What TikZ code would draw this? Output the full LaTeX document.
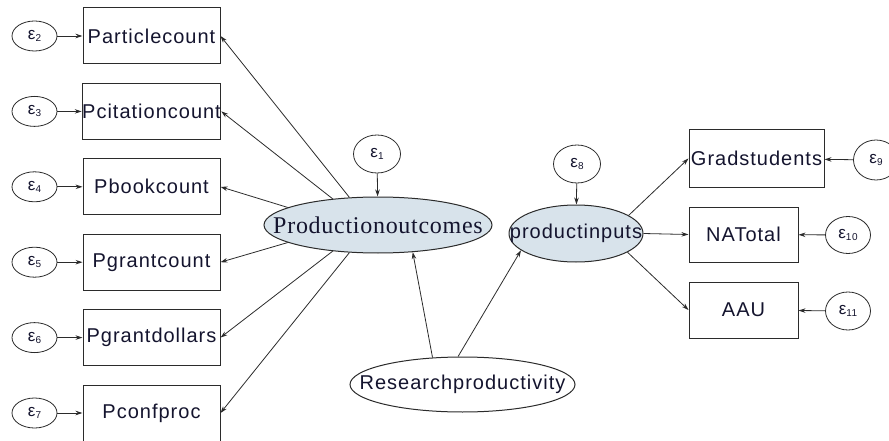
\documentclass[tikz,border=0pt]{standalone}
\usepackage{fontspec}
\setmainfont{Liberation Sans}[LetterSpace=5]
\newfontfamily\latserif{Liberation Serif}[LetterSpace=3]
\usetikzlibrary{arrows.meta,shapes.geometric}
\definecolor{latcol}{HTML}{D8E3EB}
\definecolor{edgecol}{HTML}{2B2B2B}
\definecolor{txtcol}{HTML}{14142E}
\newcommand\errlab[1]{{\fontsize{17}{17}\selectfont ε}\raisebox{-2pt}{\fontsize{10}{10}\selectfont #1}}

\begin{document}
\begin{tikzpicture}[x=1pt,y=-1pt,>={Stealth[length=7pt,width=4.5pt]},
  every node/.style={text=txtcol},
  obs/.style={draw=edgecol,line width=1pt,minimum width=137pt,minimum height=56pt,inner sep=0pt,font=\fontsize{20}{22}\selectfont},
  err/.style={draw=edgecol,ellipse,line width=0.8pt,minimum width=45pt,minimum height=30pt,inner sep=0pt},
  lat/.style={draw=edgecol,ellipse,line width=1pt,fill=latcol,inner sep=0pt,font=\fontsize{20}{22}\selectfont},
  path/.style={->,draw=edgecol,line width=0.8pt}]
  \useasboundingbox (0,0) rectangle (889,441);
  % latent variables
  \node[lat,minimum width=228pt,minimum height=56pt,font=\fontsize{24}{26}\latserif] (po) at (378,225) {\makebox[0pt]{Productionoutcomes}};
  \node[lat,minimum width=134pt,minimum height=57pt] (pi) at (576,233.5) {\makebox[0pt]{productinputs}};
  \node[lat,fill=white,minimum width=225pt,minimum height=55pt] (rp) at (462.5,384.5) {\makebox[0pt]{Researchproductivity}};
  \node[err,minimum width=47pt,minimum height=38pt] (e1) at (377,154) {\errlab{1}};
  \node[err,minimum width=47pt,minimum height=38pt] (e8) at (577,164) {\errlab{8}};
  \draw[path] (e1) -- (po);
  \draw[path] (e8) -- (pi);
  \draw[path] (rp.138) -- (po.322);
  \draw[path] (rp.99) -- (pi.197);
  % outcome indicators
  \foreach \n/\t/\y/\k/\a in {art/Particlecount/36/2/136, cit/Pcitationcount/111.4/3/150,
      book/Pbookcount/186.8/4/169, gcnt/Pgrantcount/262.2/5/191,
      gdol/Pgrantdollars/337.6/6/210, conf/Pconfproc/413/7/224}{
    \node[obs] (\n) at (151.5,\y) {\t};
    \node[err] (e\k) at (34.5,\y) {\errlab{\k}};
    \draw[path] (e\k) -- (\n);
    \draw[path] (po.\a) -- (\n.east);
  }
  % input indicators
  \node[obs,minimum width=135pt,minimum height=57pt] (grad) at (756.5,158.5) {Gradstudents};
  \node[obs,minimum width=109pt,minimum height=55pt] (nat) at (743.5,234.5) {NATotal};
  \node[obs,minimum width=109pt,minimum height=56pt] (aau) at (743.5,310) {AAU};
  \node[err,minimum height=40pt] (e9) at (876,160) {\errlab{9}};
  \node[err,minimum height=37pt] (e10) at (848,235) {\errlab{10}};
  \node[err,minimum height=38pt] (e11) at (848,311) {\errlab{11}};
  \draw[path] (pi.19) -- (grad.west);
  \draw[path] (pi.east) -- (nat.west);
  \draw[path] (pi.340) -- (aau.west);
  \draw[path] (e9) -- (grad);
  \draw[path] (e10) -- (nat);
  \draw[path] (e11) -- (aau);
\end{tikzpicture}
\end{document}
